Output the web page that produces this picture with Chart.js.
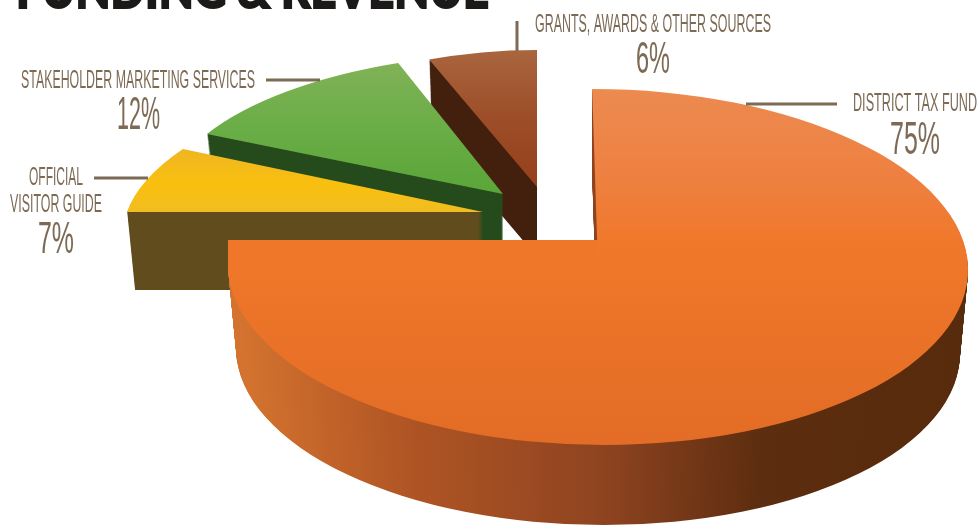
<!DOCTYPE html>
<html>
<head>
<meta charset="utf-8">
<title>Funding & Revenue</title>
<script src="https://cdn.jsdelivr.net/npm/chart.js@4"></script>
<style>
    html, body { margin: 0; padding: 0; background: #fff; overflow: hidden; }
    canvas { display: block; }
</style>
</head>
<body>
<canvas id="graficaFondos" width="978" height="526"></canvas>
<script>
const categories = ['DISTRICT TAX FUND', 'OFFICIAL VISITOR GUIDE', 'STAKEHOLDER MARKETING SERVICES', 'GRANTS, AWARDS & OTHER SOURCES'];
const percents = [75, 7, 12, 6];

// how each wedge sits on the page: ellipse centre, radii, lean, thickness
const sliceCx = [598, 483, 503, 537];
const sliceCy = [267, 212, 194, 187];
const sliceRx = [370, 356, 337, 293];
const sliceRy = [178, 148, 141, 137];
const sliceShear = [0.033, -0.35, -0.147, 0];
const sliceDepth = [84, 78, 60, 70];
const notchY = 240; // the big wedge's square corner sits higher than its ellipse centre

const faceColors = [
    [[90, '#ec8a50'], [180, '#ee8040'], [245, '#f0782a'], [445, '#e36c26']],
    [[148, '#efb522'], [185, '#f9c00f'], [214, '#efbd22']],
    [[65, '#80b256'], [130, '#69ad46'], [195, '#5aa538']],
    [[51, '#a9653e'], [120, '#9c4d27'], [187, '#95401b']]
];
const sideColors = [
    [[238, '#d4732f'], [400, '#b05524'], [600, '#8e4320'], [760, '#5c2d0f'], [965, '#582b0c']],
    [[130, '#614c1e'], [490, '#614c1e']],
    [[200, '#254b1c'], [510, '#254b1c']],
    [[425, '#43200e'], [540, '#43200e']]
];

const textColor = '#7d6a55';
const nameFont = '"Liberation Sans Narrow", "Liberation Sans", sans-serif';
// text, font size, left x, baseline y, width
const labelRows = [
    [categories[0], 25, 853, 111, 124],
    [percents[0] + '%', 46, 890, 154, 50],
    ['OFFICIAL', 25, 29, 185, 54],
    ['VISITOR GUIDE', 25, 10, 212, 92],
    [percents[1] + '%', 44, 38, 253, 36],
    [categories[2], 26, 21, 88, 234],
    [percents[2] + '%', 46, 117, 129, 43],
    [categories[3], 25, 535, 32, 236],
    [percents[3] + '%', 45, 636, 73, 34]
];
const leaderLines = [
    [746, 104, 837, 104],
    [94, 178, 148, 178],
    [266, 80, 320, 80],
    [517, 21, 517, 51]
];

function gradiente(ctx, x0, y0, x1, y1, stops, min, max) {
    const g = ctx.createLinearGradient(x0, y0, x1, y1);
    stops.forEach(s => g.addColorStop(Math.min(1, Math.max(0, (s[0] - min) / (max - min))), s[1]));
    return g;
}

function pintarArco(ctx, arc, i, drop, persp, fill) {
    const R = arc.outerRadius;
    ctx.save();
    ctx.translate(sliceCx[i], sliceCy[i] + drop);
    ctx.transform(1, 0, sliceShear[i], 1, 0, 0);
    ctx.scale(persp * sliceRx[i] / R, persp * sliceRy[i] / R);
    ctx.translate(-arc.x, -arc.y);
    const base = arc.options;
    arc.options = Object.create(base);
    arc.options.backgroundColor = fill;
    arc.draw(ctx);
    arc.options = base;
    ctx.restore();
}

const pastel3d = {
    id: 'pastel3d',
    beforeDatasetDraw(chart) {
        const ctx = chart.ctx;
        const arcs = chart.getDatasetMeta(0).data;
        // back to front: grants, stakeholder, visitor guide, tax fund
        [3, 2, 1, 0].forEach(i => {
            const arc = arcs[i];
            const R = arc.outerRadius;
            const kx = sliceRx[i] / R, ky = sliceRy[i] / R;
            const sx = sideColors[i], fx = faceColors[i];
            const sMin = sx[0][0], sMax = sx[sx.length - 1][0];
            const fMin = fx[0][0], fMax = fx[fx.length - 1][0];
            const side = gradiente(ctx,
                arc.x + (sMin - sliceCx[i]) / kx, 0,
                arc.x + (sMax - sliceCx[i]) / kx, 0, sx, sMin, sMax);
            const face = gradiente(ctx,
                0, arc.y + (fMin - sliceCy[i]) / ky,
                0, arc.y + (fMax - sliceCy[i]) / ky, fx, fMin, fMax);
            for (let d = sliceDepth[i]; d >= 1; d--) {
                pintarArco(ctx, arc, i, d, 1 - 0.022 * d / sliceDepth[i], side);
            }
            if (i === 0) {
                // fills the band between the ellipse centre and the higher corner
                ctx.save();
                ctx.beginPath();
                ctx.rect(0, notchY, sliceCx[0] + 1, chart.height);
                ctx.clip();
                for (let d = notchY - sliceCy[0]; d < 0; d++) {
                    pintarArco(ctx, arc, i, d, 1, face);
                }
                ctx.restore();
            }
            pintarArco(ctx, arc, i, 0, 1, face);
        });
        return false;
    },
    afterDraw(chart) {
        const ctx = chart.ctx;
        ctx.save();
        ctx.fillStyle = '#1c1a18';
        ctx.strokeStyle = '#1c1a18';
        ctx.lineWidth = 2;
        ctx.font = '900 54px Lato, "Liberation Sans", sans-serif';
        ctx.textBaseline = 'alphabetic';
        ctx.fillText('FUNDING & REVENUE', 16, 8, 473);
        ctx.strokeText('FUNDING & REVENUE', 16, 8, 473);

        ctx.strokeStyle = textColor;
        ctx.lineWidth = 3;
        leaderLines.forEach(l => {
            ctx.beginPath();
            ctx.moveTo(l[0], l[1]);
            ctx.lineTo(l[2], l[3]);
            ctx.stroke();
        });

        ctx.fillStyle = textColor;
        labelRows.forEach(r => {
            ctx.font = r[1] + 'px ' + nameFont;
            ctx.fillText(r[0], r[2], r[3], r[4]);
        });
        ctx.restore();
    }
};

new Chart(document.getElementById('graficaFondos').getContext('2d'), {
    type: 'pie',
    data: {
        labels: categories,
        datasets: [{
            data: percents,
            backgroundColor: ['#ee7a2c', '#f9c00f', '#69ad46', '#9c4d27'],
            borderWidth: 0
        }]
    },
    options: {
        responsive: false,
        animation: false,
        events: [],
        plugins: {
            legend: { display: false },
            tooltip: { enabled: false },
            title: { display: false }
        }
    },
    plugins: [pastel3d]
});
</script>
</body>
</html>
